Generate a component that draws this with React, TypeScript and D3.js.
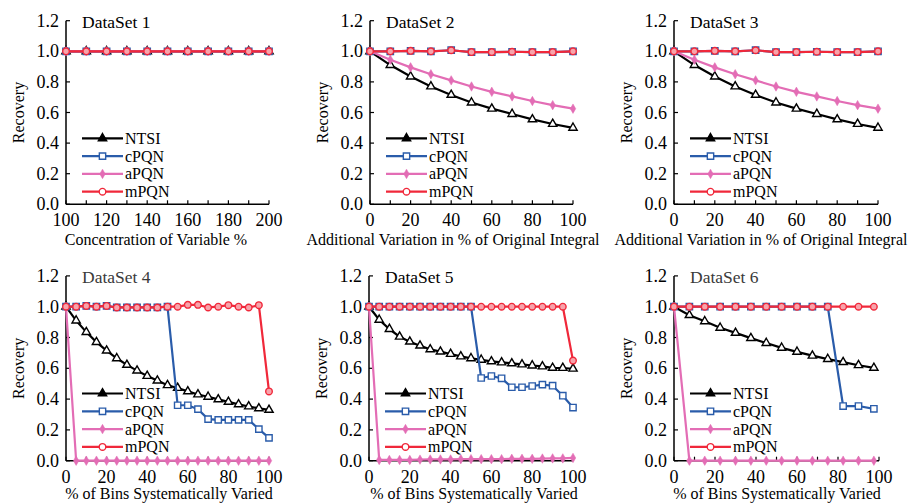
import React from 'react'
import * as d3 from 'd3'

// series
const seriesNames = ['NTSI', 'cPQN', 'aPQN', 'mPQN']
const seriesColors = ['#000000', '#2a5caa', '#e36db5', '#f0283a']

// x values
const concX = [100, 110, 120, 130, 140, 150, 160, 170, 180, 190, 200]
const varX = [0, 10, 20, 30, 40, 50, 60, 70, 80, 90, 100]
const binsX = [0, 5, 10, 15, 20, 25, 30, 35, 40, 45, 50, 55, 60, 65, 70, 75, 80, 85, 90, 95, 100]
const bins6X = [0, 7.5, 15, 22.5, 30, 37.5, 45, 52.5, 60, 67.5, 75, 82.5, 90, 97.5]

// tick labels
const yTicks = [0, 0.2, 0.4, 0.6, 0.8, 1.0, 1.2]
const concTicks = [100, 120, 140, 160, 180, 200]
const pctTicks = [0, 20, 40, 60, 80, 100]

// DataSet 1
const ds1Ntsi = [1, 1, 1, 1, 1, 1, 1, 1, 1, 1, 1]
const ds1Cpqn = [1, 1, 1, 1, 1, 1, 1, 1, 1, 1, 1]
const ds1Apqn = [1, 1, 1, 1, 1, 1, 1, 1, 1, 1, 1]
const ds1Mpqn = [1, 1, 1, 1, 1, 1, 1, 1, 1, 1, 1]

// DataSet 2
const ds2Ntsi = [1.0, 0.91, 0.835, 0.77, 0.715, 0.665, 0.625, 0.59, 0.555, 0.525, 0.5]
const ds2Cpqn = [1.0, 1.0, 1.003, 1.0, 1.007, 0.995, 0.995, 0.997, 0.995, 0.995, 1.0]
const ds2Apqn = [1.0, 0.945, 0.895, 0.85, 0.81, 0.77, 0.735, 0.705, 0.675, 0.648, 0.625]
const ds2Mpqn = [1.0, 1.0, 1.003, 1.0, 1.007, 0.995, 0.995, 0.997, 0.995, 0.995, 1.0]

// DataSet 3
const ds3Ntsi = [1.0, 0.91, 0.835, 0.77, 0.715, 0.665, 0.625, 0.59, 0.555, 0.525, 0.5]
const ds3Cpqn = [1.0, 1.0, 1.003, 1.0, 1.007, 0.995, 0.995, 0.997, 0.995, 0.995, 1.0]
const ds3Apqn = [1.0, 0.945, 0.895, 0.85, 0.81, 0.77, 0.735, 0.705, 0.675, 0.648, 0.625]
const ds3Mpqn = [1.0, 1.0, 1.003, 1.0, 1.007, 0.995, 0.995, 0.997, 0.995, 0.995, 1.0]

// DataSet 4
const ds4Ntsi = [1.0, 0.91, 0.835, 0.77, 0.715, 0.665, 0.622, 0.585, 0.55, 0.52, 0.49, 0.472, 0.45, 0.43, 0.415, 0.398, 0.382, 0.366, 0.352, 0.34, 0.33]
const ds4Cpqn = [1.0, 1.0, 1.005, 1.0, 1.005, 0.995, 0.995, 0.995, 0.995, 0.995, 1.0, 0.36, 0.36, 0.335, 0.27, 0.265, 0.265, 0.265, 0.265, 0.205, 0.148]
const ds4Apqn = [1.0, 0, 0, 0, 0, 0, 0, 0, 0, 0, 0, 0, 0, 0, 0, 0, 0, 0, 0, 0, 0]
const ds4Mpqn = [1.0, 1.0, 1.005, 1.0, 1.005, 0.995, 0.995, 0.995, 0.995, 0.995, 1.0, 1.0, 1.012, 1.012, 0.995, 1.0, 1.01, 1.0, 0.995, 1.01, 0.45]

// DataSet 5
const ds5Ntsi = [1.0, 0.915, 0.855, 0.805, 0.773, 0.747, 0.723, 0.708, 0.693, 0.677, 0.665, 0.655, 0.645, 0.638, 0.632, 0.625, 0.618, 0.612, 0.603, 0.602, 0.597]
const ds5Cpqn = [1, 1, 1, 1, 1, 1, 1, 1, 1, 1, 1, 0.537, 0.55, 0.535, 0.477, 0.477, 0.485, 0.494, 0.487, 0.422, 0.345]
const ds5Apqn = [1.0, 0.005, 0.005, 0.005, 0.005, 0.007, 0.008, 0.008, 0.008, 0.01, 0.01, 0.01, 0.01, 0.01, 0.012, 0.012, 0.012, 0.014, 0.015, 0.015, 0.018]
const ds5Mpqn = [1, 1, 1, 1, 1, 1, 1, 1, 1, 1, 1, 1, 1, 1, 1, 1, 1, 1, 1, 1, 0.65]

// DataSet 6
const ds6Ntsi = [1.0, 0.945, 0.905, 0.863, 0.83, 0.796, 0.764, 0.733, 0.707, 0.682, 0.66, 0.64, 0.62, 0.603]
const ds6Cpqn = [1, 1, 1, 1, 1, 1, 1, 1, 1, 1, 1, 0.355, 0.355, 0.337]
const ds6Apqn = [1.0, 0, 0, 0, 0, 0, 0, 0, 0, 0, 0, 0, 0, 0]
const ds6Mpqn = [1, 1, 1, 1, 1, 1, 1, 1, 1, 1, 1, 1, 1, 1]

const FONT = "'Liberation Serif', 'DejaVu Serif', serif"

const panels = [
  { title: 'DataSet 1', xs: concX, series: [ds1Ntsi, ds1Cpqn, ds1Apqn, ds1Mpqn], domain: [100, 200], labels: concTicks, xLabel: 'Concentration of Variable %',
    x0: 66, x1: 269, yTop: 20.7, yBot: 204.3, xLabelX: 156, titleColor: '#000' },
  { title: 'DataSet 2', xs: varX, series: [ds2Ntsi, ds2Cpqn, ds2Apqn, ds2Mpqn], domain: [0, 100], labels: pctTicks, xLabel: 'Additional Variation in % of Original Integral',
    x0: 370, x1: 573, yTop: 20.7, yBot: 204.3, xLabelX: 453, titleColor: '#000' },
  { title: 'DataSet 3', xs: varX, series: [ds3Ntsi, ds3Cpqn, ds3Apqn, ds3Mpqn], domain: [0, 100], labels: pctTicks, xLabel: 'Additional Variation in % of Original Integral',
    x0: 674, x1: 878, yTop: 20.7, yBot: 204.3, xLabelX: 761, titleColor: '#000' },
  { title: 'DataSet 4', xs: binsX, series: [ds4Ntsi, ds4Cpqn, ds4Apqn, ds4Mpqn], domain: [0, 100], labels: pctTicks, xLabel: '% of Bins Systematically Varied',
    x0: 66, x1: 269, yTop: 275.9, yBot: 460.7, xLabelX: 169, titleColor: '#3a3a3a' },
  { title: 'DataSet 5', xs: binsX, series: [ds5Ntsi, ds5Cpqn, ds5Apqn, ds5Mpqn], domain: [0, 100], labels: pctTicks, xLabel: '% of Bins Systematically Varied',
    x0: 369, x1: 573, yTop: 275.9, yBot: 460.7, xLabelX: 474, titleColor: '#000' },
  { title: 'DataSet 6', xs: bins6X, series: [ds6Ntsi, ds6Cpqn, ds6Apqn, ds6Mpqn], domain: [0, 100], labels: pctTicks, xLabel: '% of Bins Systematically Varied',
    x0: 674, x1: 879, yTop: 275.9, yBot: 460.7, xLabelX: 777, titleColor: '#3a3a3a' },
]

const symbolTypes = [d3.symbolTriangle, d3.symbolSquare, d3.symbolDiamond, d3.symbolCircle]
const symbolSizes = [30, 40, 26, 34]

function Marker({ i, x, y, legend }: { i: number; x: number; y: number; legend?: boolean }) {
  const d = d3.symbol().type(symbolTypes[i]).size(symbolSizes[i])() as string
  const c = seriesColors[i]
  let fill = '#fff'
  if (i === 2) fill = c
  if (i === 0 && legend) fill = c
  if (i === 3 && !legend) fill = '#f7a3ab'
  return <path d={d} transform={`translate(${x},${y})`} fill={fill} stroke={c} strokeWidth={i === 2 ? 0.5 : 1.4} />
}

function Panel({ p }: { p: typeof panels[number] }) {
  const x = d3.scaleLinear().domain(p.domain).range([p.x0, p.x1])
  const y = d3.scaleLinear().domain([0, 1.2]).range([p.yBot, p.yTop])
  const minor = d3.range(p.domain[0], p.domain[1] + 1, 10)
  const line = d3.line<number>().x((_, k) => x(p.xs[k])).y(v => y(v))
  const legendY0 = p.yTop + 117.6
  return (
    <g>
      {/* axes */}
      <line x1={p.x0} x2={p.x0} y1={p.yTop} y2={p.yBot} stroke="#000" strokeWidth={1.5} />
      <line x1={p.x0} x2={p.x1} y1={p.yBot} y2={p.yBot} stroke="#000" strokeWidth={1.5} />
      {yTicks.map(t => (
        <g key={t}>
          <line x1={p.x0} x2={p.x0 + 4} y1={y(t)} y2={y(t)} stroke="#000" strokeWidth={1.2} />
          <text x={p.x0 - 7} y={y(t)} dy="0.34em" textAnchor="end" fontSize={18}>{t.toFixed(1)}</text>
        </g>
      ))}
      {minor.map(t => (
        <line key={t} x1={x(t)} x2={x(t)} y1={p.yBot} y2={p.yBot - 4} stroke="#000" strokeWidth={1.2} />
      ))}
      {p.labels.map(t => (
        <text key={t} x={x(t)} y={p.yBot + 22} textAnchor="middle" fontSize={18}>{t}</text>
      ))}
      <text x={p.xLabelX} y={Math.min(p.yBot + 41, 499)} textAnchor="middle" fontSize={16}>{p.xLabel}</text>
      <text transform={`translate(${p.x0 - 47},${(p.yTop + p.yBot) / 2}) rotate(-90)`} dy="0.34em" textAnchor="middle" fontSize={16}>Recovery</text>
      <text x={p.x0 + 16} y={p.yTop + 7.5} fontSize={17.5} fill={p.titleColor}>{p.title}</text>

      {/* series */}
      {p.series.map((vals, i) => (
        <g key={i}>
          <path d={line(vals) as string} fill="none" stroke={seriesColors[i]} strokeWidth={2.2} />
          {vals.map((v, k) => <Marker key={k} i={i} x={x(p.xs[k])} y={y(v)} />)}
        </g>
      ))}

      {/* legend */}
      {seriesNames.map((n, i) => {
        const ly = legendY0 + i * 17.8
        return (
          <g key={n}>
            <line x1={p.x0 + 16} x2={p.x0 + 57} y1={ly} y2={ly} stroke={seriesColors[i]} strokeWidth={2.2} />
            <Marker i={i} x={p.x0 + 36.5} y={ly} legend />
            <text x={p.x0 + 59} y={ly} dy="0.34em" fontSize={16}>{n}</text>
          </g>
        )
      })}
    </g>
  )
}

export default function App() {
  return (
    <svg width={915} height={503} style={{ position: 'absolute', left: 0, top: 0, background: '#fff', fontFamily: FONT }}>
      <rect width={915} height={503} fill="#fff" />
      {panels.map(p => <Panel key={p.title} p={p} />)}
    </svg>
  )
}
